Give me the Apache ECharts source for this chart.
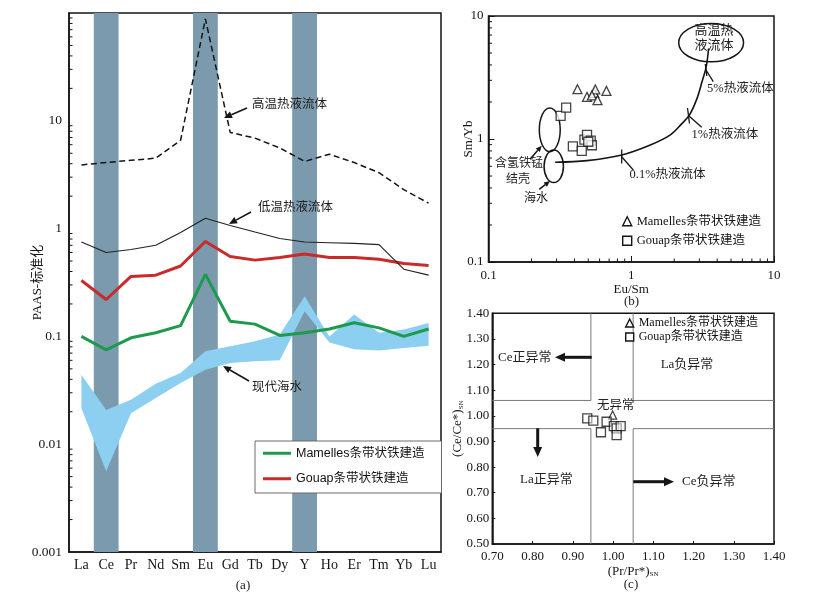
<!DOCTYPE html>
<html>
<head>
<meta charset="utf-8">
<title>REE</title>
<script src="https://cdn.jsdelivr.net/npm/echarts@6/dist/echarts.min.js"></script>
<style>
  html, body { margin: 0; padding: 0; background: #fff; }
  #chart { width: 816px; height: 602px; }
</style>
</head>
<body>
<div id="chart"></div>
<script>
// ---- (a) PAAS-normalised REE+Y patterns ----
const reeCats = ['La', 'Ce', 'Pr', 'Nd', 'Sm', 'Eu', 'Gd', 'Tb', 'Dy', 'Y', 'Ho', 'Er', 'Tm', 'Yb', 'Lu'];
const highTempFluid = [3.9, 4.1, 4.3, 4.5, 6.6, 88, 7.8, 6.9, 5.6, 4.2, 4.9, 4.1, 3.3, 2.3, 1.72];
const lowTempFluid = [0.75, 0.6, 0.64, 0.7, 0.92, 1.25, 1.07, 0.93, 0.81, 0.75, 0.74, 0.73, 0.71, 0.42, 0.37];
const gouapRee = [0.33, 0.22, 0.36, 0.37, 0.45, 0.76, 0.55, 0.51, 0.54, 0.58, 0.54, 0.54, 0.52, 0.475, 0.455];
const mamellesRee = [0.1, 0.075, 0.097, 0.108, 0.126, 0.376, 0.138, 0.13, 0.102, 0.108, 0.117, 0.134, 0.12, 0.1, 0.117];
const seawaterHigh = [0.044, 0.0208, 0.0258, 0.0364, 0.0457, 0.0727, 0.081, 0.09, 0.104, 0.236, 0.1, 0.16, 0.108, 0.116, 0.133];
const seawaterLow = [0.0216, 0.0056, 0.0194, 0.0268, 0.0369, 0.049, 0.0566, 0.0587, 0.06, 0.171, 0.088, 0.076, 0.074, 0.078, 0.082];
const anomalyCats = ['Ce', 'Eu', 'Y'];
const reeRange = [0.001, 100];

// ---- (b) Eu/Sm vs Sm/Yb ----
const mamellesEuSm = [0.42, 0.49, 0.55, 0.56, 0.53, 0.58, 0.67];
const mamellesSmYb = [2.54, 2.2, 2.37, 2.53, 2.26, 2.07, 2.46];
const gouapEuSm = [0.32, 0.35, 0.39, 0.45, 0.47, 0.49, 0.52, 0.53, 0.5];
const gouapSmYb = [1.54, 1.8, 0.87, 0.8, 0.99, 1.08, 0.97, 0.89, 0.95];
const mixEuSm = [0.293, 0.49, 0.86, 1.36, 1.88, 2.27, 2.56, 2.89, 3.13, 3.35, 3.48];
const mixSmYb = [0.647, 0.667, 0.742, 0.894, 1.08, 1.34, 1.57, 2.14, 2.92, 3.86, 5.44];
// ellipses: [min, max] on each axis
const ellipseEuSm = [[2.15, 6.12], [0.227, 0.318], [0.245, 0.335]];
const ellipseSmYb = [[4.24, 8.68], [0.789, 1.79], [0.442, 0.814]];

// ---- (c) Pr/Pr* vs Ce/Ce* ----
const mamellesPr = [0.999];
const mamellesCe = [1.003];
const gouapPr = [0.936, 0.951, 0.984, 0.97, 1.002, 1.009, 1.019, 1.009];
const gouapCe = [0.99, 0.981, 0.977, 0.936, 0.96, 0.951, 0.96, 0.925];
const prLimits = [0.945, 1.05];
const ceLimits = [0.95, 1.06];
const prRange = [0.7, 1.4];
const ceRange = [0.5, 1.4];

const logMinorSteps = [2, 3, 4, 5, 6, 7, 8, 9];
const reeDecades = [0.001, 0.01, 0.1, 1, 10];
const bDecades = [0.1, 1];

const serif = '"Liberation Serif", "Noto Sans CJK SC", serif';
const sans = '"Liberation Sans", "Noto Sans CJK SC", sans-serif';
const ink = '#151515';
const green = '#1d9a4c';
const red = '#c92a2a';
const barColor = '#7b9aae';
const bandColor = '#8ccff0';
const mamName = 'Mamelles条带状铁建造';
const gouName = 'Gouap条带状铁建造';

function minorValues(decades) {
  const out = [];
  decades.forEach(d => logMinorSteps.forEach(k => out.push(+(d * k).toPrecision(3))));
  return out;
}

function minorTicks(idx, dim, ref, values, len) {
  return {
    type: 'custom', xAxisIndex: idx, yAxisIndex: idx, silent: true, z: 6,
    data: values.map(v => (dim === 'y' ? [ref, v] : [v, ref])),
    renderItem: function (params, api) {
      const cs = params.coordSys;
      const p = api.coord([api.value(0), api.value(1)]);
      if (dim === 'y') {
        return { type: 'line', shape: { x1: cs.x, y1: p[1], x2: cs.x + len, y2: p[1] }, style: { stroke: ink, lineWidth: 1 } };
      }
      const yb = cs.y + cs.height;
      return { type: 'line', shape: { x1: p[0], y1: yb, x2: p[0], y2: yb - len }, style: { stroke: ink, lineWidth: 1 } };
    }
  };
}

function boxLines(points) {
  return {
    type: 'line', xAxisIndex: 2, yAxisIndex: 2, silent: true, symbol: 'none', z: 2,
    lineStyle: { color: '#7a7a7a', width: 1 }, data: points
  };
}

function arrow(x1, y1, x2, y2, w, head) {
  const ang = Math.atan2(y2 - y1, x2 - x1);
  const bx = x2 - head * Math.cos(ang), by = y2 - head * Math.sin(ang);
  const hw = head * 0.45;
  const nx = -Math.sin(ang) * hw, ny = Math.cos(ang) * hw;
  return [
    { type: 'line', z: 100, shape: { x1: x1, y1: y1, x2: bx, y2: by }, style: { stroke: ink, lineWidth: w } },
    { type: 'polygon', z: 100, shape: { points: [[x2, y2], [bx + nx, by + ny], [bx - nx, by - ny]] }, style: { fill: ink } }
  ];
}

function seg(x1, y1, x2, y2) {
  return { type: 'line', z: 100, shape: { x1: x1, y1: y1, x2: x2, y2: y2 }, style: { stroke: ink, lineWidth: 1.3 } };
}

function label(text, x, y, size, align) {
  return {
    type: 'text', x: x, y: y, z: 100,
    style: { text: text, fontSize: size, fontFamily: serif, fill: '#222', align: align || 'left', verticalAlign: 'middle', lineHeight: size + 2 }
  };
}

const axisLine = { show: true, lineStyle: { color: ink, width: 1.5 } };
const tickLabel = { fontFamily: serif, fontSize: 13, color: ink };
const nameStyle = {
  fontFamily: serif, fontSize: 13, color: ink,
  rich: { s: { fontFamily: serif, fontSize: 7, color: ink, verticalAlign: 'bottom', padding: [5, 0, 0, 0] } }
};

const [xMin, xMax] = prRange;
const [yMin, yMax] = ceRange;

const option = {
  animation: false,
  backgroundColor: '#fff',
  grid: [
    { left: 69, top: 13, width: 372, height: 539, show: true, borderColor: ink, borderWidth: 1.5 },
    { left: 488.5, top: 16, width: 285.5, height: 246, show: true, borderColor: ink, borderWidth: 1.5 },
    { left: 492.3, top: 313.3, width: 281.7, height: 230.7, show: true, borderColor: ink, borderWidth: 1.5 }
  ],
  xAxis: [
    {
      gridIndex: 0, type: 'category', data: reeCats, boundaryGap: true,
      axisLine: axisLine, axisTick: { inside: true, length: 5, lineStyle: { color: ink } },
      axisLabel: { margin: 6, fontSize: 14, interval: 0, fontFamily: serif, color: ink },
      splitLine: { show: false }
    },
    {
      gridIndex: 1, type: 'log', logBase: 10, min: 0.1, max: 10,
      axisLine: axisLine, axisTick: { inside: true, length: 6, lineStyle: { color: ink } },
      axisLabel: Object.assign({ margin: 7 }, tickLabel), splitLine: { show: false },
      name: 'Eu/Sm', nameLocation: 'middle', nameGap: 21, nameMoveOverlap: false, nameTextStyle: nameStyle
    },
    {
      gridIndex: 2, type: 'value', min: xMin, max: xMax, interval: 0.1,
      axisLine: axisLine, axisTick: { inside: true, length: 3, lineStyle: { color: ink } },
      axisLabel: Object.assign({ margin: 6, formatter: v => v.toFixed(2) }, tickLabel), splitLine: { show: false },
      name: '(Pr/Pr*){s|SN}', nameLocation: 'middle', nameGap: 21, nameMoveOverlap: false, nameTextStyle: nameStyle
    }
  ],
  yAxis: [
    {
      gridIndex: 0, type: 'log', logBase: 10, min: reeRange[0], max: reeRange[1],
      axisLine: axisLine, axisTick: { inside: true, length: 6, lineStyle: { color: ink } },
      axisLabel: Object.assign({ margin: 7, formatter: v => (v >= 100 ? '' : String(v)) }, tickLabel, { fontSize: 13.5 }),
      splitLine: { show: false },
      name: 'PAAS-标准化', nameLocation: 'middle', nameGap: 25, nameMoveOverlap: false, nameTextStyle: nameStyle
    },
    {
      gridIndex: 1, type: 'log', logBase: 10, min: 0.1, max: 10,
      axisLine: axisLine, axisTick: { inside: true, length: 6, lineStyle: { color: ink } },
      axisLabel: Object.assign({ margin: 5 }, tickLabel), splitLine: { show: false },
      name: 'Sm/Yb', nameLocation: 'middle', nameGap: 13, nameMoveOverlap: false, nameTextStyle: nameStyle
    },
    {
      gridIndex: 2, type: 'value', min: yMin, max: yMax, interval: 0.1,
      axisLine: axisLine, axisTick: { inside: true, length: 3, lineStyle: { color: ink } },
      axisLabel: Object.assign({ margin: 3, formatter: v => v.toFixed(2) }, tickLabel), splitLine: { show: false },
      name: '(Ce/Ce*){s|SN}', nameLocation: 'middle', nameGap: 28, nameMoveOverlap: false, nameTextStyle: nameStyle
    }
  ],
  legend: [
    {
      orient: 'vertical', left: 255, top: 441, padding: [6, 17, 8, 8], itemGap: 13,
      itemWidth: 28, itemHeight: 3, icon: 'rect',
      borderColor: '#6a6a6a', borderWidth: 1, backgroundColor: '#fff', selectedMode: false,
      textStyle: { fontFamily: sans, fontSize: 12.5, color: '#111' },
      data: [{ name: mamName, itemStyle: { color: green } }, { name: gouName, itemStyle: { color: red } }]
    },
    {
      orient: 'vertical', left: 622, top: 215, padding: 0, itemGap: 7,
      itemWidth: 9, itemHeight: 9, selectedMode: false,
      textStyle: { fontFamily: serif, fontSize: 12.5, color: '#111' },
      data: [
        { name: mamName, icon: 'triangle', itemStyle: { color: '#fff', borderColor: ink, borderWidth: 1.4 } },
        { name: gouName, icon: 'rect', itemStyle: { color: '#fff', borderColor: ink, borderWidth: 1.4 } }
      ]
    },
    {
      orient: 'vertical', left: 625, top: 317, padding: 0, itemGap: 2,
      itemWidth: 8, itemHeight: 8, selectedMode: false,
      textStyle: { fontFamily: serif, fontSize: 12, color: '#111' },
      data: [
        { name: mamName, icon: 'triangle', itemStyle: { color: '#fff', borderColor: ink, borderWidth: 1.4 } },
        { name: gouName, icon: 'rect', itemStyle: { color: '#fff', borderColor: ink, borderWidth: 1.4 } }
      ]
    }
  ],
  series: [
    // (a)
    {
      name: mamName, type: 'line', xAxisIndex: 0, yAxisIndex: 0, z: 5, symbol: 'none', color: green,
      lineStyle: { color: green, width: 3 }, data: mamellesRee
    },
    {
      name: gouName, type: 'line', xAxisIndex: 0, yAxisIndex: 0, z: 5, symbol: 'none', color: red,
      lineStyle: { color: red, width: 3 }, data: gouapRee
    },
    {
      name: '高温热液流体', type: 'line', xAxisIndex: 0, yAxisIndex: 0, z: 5, symbol: 'none',
      lineStyle: { color: ink, width: 1.5, type: [6, 3.5] }, data: highTempFluid
    },
    {
      name: '低温热液流体', type: 'line', xAxisIndex: 0, yAxisIndex: 0, z: 5, symbol: 'none',
      lineStyle: { color: '#222', width: 1.1 }, data: lowTempFluid
    },
    {
      name: 'anomaly', type: 'custom', xAxisIndex: 0, yAxisIndex: 0, silent: true, z: 1,
      data: anomalyCats.map(c => [c, reeRange[1]]),
      renderItem: function (params, api) {
        const i = api.value(0);
        const top = api.coord([i, reeRange[1]]);
        const bot = api.coord([i, reeRange[0]]);
        const w = api.size([1, 0], [i, 1])[0];
        return { type: 'rect', shape: { x: top[0] - w / 2, y: top[1], width: w, height: bot[1] - top[1] }, style: { fill: barColor } };
      }
    },
    {
      name: '现代海水', type: 'custom', xAxisIndex: 0, yAxisIndex: 0, silent: true, z: 2,
      data: reeCats.map((c, i) => [i, seawaterLow[i], seawaterHigh[i]]),
      renderItem: function (params, api) {
        if (params.dataIndex !== 0) return;
        const up = seawaterHigh.map((v, i) => api.coord([i, v]));
        const lo = seawaterLow.map((v, i) => api.coord([i, v])).reverse();
        return { type: 'polygon', shape: { points: up.concat(lo) }, style: { fill: bandColor } };
      }
    },
    minorTicks(0, 'y', 0, minorValues(reeDecades), 3.5),
    // (b)
    {
      name: 'fields', type: 'custom', xAxisIndex: 1, yAxisIndex: 1, silent: true, z: 3,
      data: ellipseEuSm.map((r, i) => [r[0], ellipseSmYb[i][0], r[1], ellipseSmYb[i][1]]),
      renderItem: function (params, api) {
        const a = api.coord([api.value(0), api.value(1)]);
        const b = api.coord([api.value(2), api.value(3)]);
        return {
          type: 'ellipse',
          shape: { cx: (a[0] + b[0]) / 2, cy: (a[1] + b[1]) / 2, rx: Math.abs(b[0] - a[0]) / 2, ry: Math.abs(b[1] - a[1]) / 2 },
          style: { fill: 'none', stroke: ink, lineWidth: 1.5 }
        };
      }
    },
    {
      name: 'mixing', type: 'line', xAxisIndex: 1, yAxisIndex: 1, smooth: 0.35, symbol: 'none', z: 4,
      lineStyle: { color: ink, width: 1.6 }, data: mixEuSm.map((x, i) => [x, mixSmYb[i]])
    },
    {
      name: mamName, type: 'scatter', xAxisIndex: 1, yAxisIndex: 1, symbol: 'triangle', symbolSize: 9, z: 5,
      itemStyle: { color: '#fff', borderColor: ink, borderWidth: 1.3 },
      data: mamellesEuSm.map((x, i) => [x, mamellesSmYb[i]])
    },
    {
      name: gouName, type: 'scatter', xAxisIndex: 1, yAxisIndex: 1, symbol: 'rect', symbolSize: 9, z: 5,
      itemStyle: { color: '#fff', borderColor: ink, borderWidth: 1.3 },
      data: gouapEuSm.map((x, i) => [x, gouapSmYb[i]])
    },
    minorTicks(1, 'y', 1, minorValues(bDecades), 3.5),
    minorTicks(1, 'x', 1, minorValues(bDecades), 3.5),
    // (c)
    boxLines([[xMin, ceLimits[1]], [prLimits[0], ceLimits[1]], [prLimits[0], yMax]]),
    boxLines([[prLimits[1], yMax], [prLimits[1], ceLimits[1]], [xMax, ceLimits[1]]]),
    boxLines([[xMin, ceLimits[0]], [prLimits[0], ceLimits[0]], [prLimits[0], yMin]]),
    boxLines([[prLimits[1], yMin], [prLimits[1], ceLimits[0]], [xMax, ceLimits[0]]]),
    {
      name: mamName, type: 'scatter', xAxisIndex: 2, yAxisIndex: 2, symbol: 'triangle', symbolSize: 8, z: 5,
      itemStyle: { color: '#fff', borderColor: ink, borderWidth: 1.3 },
      data: mamellesPr.map((x, i) => [x, mamellesCe[i]])
    },
    {
      name: gouName, type: 'scatter', xAxisIndex: 2, yAxisIndex: 2, symbol: 'rect', symbolSize: 9, z: 5,
      itemStyle: { color: 'rgba(255,255,255,0.6)', borderColor: ink, borderWidth: 1.3 },
      data: gouapPr.map((x, i) => [x, gouapCe[i]])
    }
  ],
  graphic: [].concat(
    // (a) annotations
    [label('高温热液流体', 252, 105, 12.5)], arrow(247, 108, 224, 118, 1.5, 8),
    [label('低温热液流体', 258, 208, 12.5)], arrow(251, 212, 229, 224, 1.5, 8),
    [label('现代海水', 252, 388, 12.5)], arrow(249, 381, 223, 366, 1.5, 8),
    [label('(a)', 243, 586, 13, 'center')],
    // (b) annotations
    [label('高温热\n液流体', 714, 38, 13, 'center')],
    [seg(705.3, 64, 706.8, 76), seg(706, 70, 713.3, 81.7), label('5%热液流体', 707, 88.5, 12.5)],
    [seg(687.5, 108, 689.5, 123.5), seg(689, 116, 701.7, 127.3), label('1%热液流体', 691.5, 135, 12.5)],
    [seg(621.7, 149.5, 621.7, 163.5), seg(621.7, 156.7, 633.3, 170), label('0.1%热液流体', 629.5, 175, 12.5)],
    [label('含氢铁锰', 495, 163.5, 12), label('结壳', 518, 179.5, 12, 'center'), label('海水', 524, 198.5, 12)],
    arrow(530, 159.3, 541.7, 145.7, 1.5, 6),
    arrow(539.3, 189.3, 550, 181, 1.5, 6),
    [label('(b)', 631.5, 302, 13, 'center')],
    // (c) annotations
    [label('Ce正异常', 498, 357.3, 13)], arrow(591.7, 357.3, 555, 357.3, 3, 10),
    [label('La负异常', 687, 365, 13, 'center')],
    [label('无异常', 597, 406, 12.5)],
    [label('La正异常', 520, 480, 13)], arrow(537.7, 428.3, 537.7, 457, 3, 10),
    [label('Ce负异常', 682, 481.7, 13)], arrow(633.3, 481.7, 674, 481.7, 3, 10),
    [label('(c)', 631, 585, 13, 'center')]
  )
};

const chart = echarts.init(document.getElementById('chart'));
chart.setOption(option);
window.addEventListener('resize', () => chart.resize());
</script>
</body>
</html>
